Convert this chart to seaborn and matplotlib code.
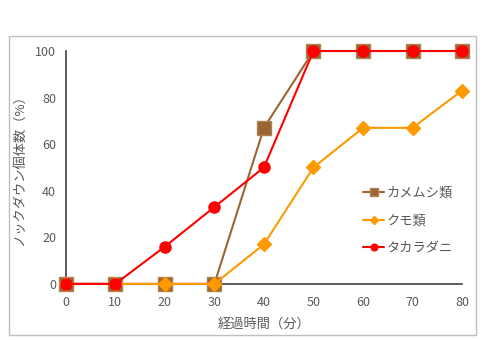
import matplotlib
matplotlib.use("Agg")
import matplotlib.pyplot as plt
import seaborn as sns
import pandas as pd
from matplotlib.patches import Rectangle

minutes = [0, 10, 20, 30, 40, 50, 60, 70, 80]
kamemushi = [0, 0, 0, 0, 67, 100, 100, 100, 100]
kumo = [0, 0, 0, 0, 17, 50, 67, 67, 83]
takaradani = [0, 0, 16, 33, 50, 100, 100, 100, 100]
series_names = ["カメムシ類", "クモ類", "タカラダニ"]
x_ticks = [0, 10, 20, 30, 40, 50, 60, 70, 80]
y_ticks = [0, 20, 40, 60, 80, 100]

sns.set_style("white")
plt.rcParams['font.family'] = ['Noto Sans CJK JP', 'DejaVu Sans']

fig = plt.figure(figsize=(4.91, 3.40), dpi=100)
ax = fig.add_axes([0.134, 0.165, 0.807, 0.685])

fig.patches.append(Rectangle((9/491, 5/340), 467/491, 299/340, transform=fig.transFigure,
                             fill=False, edgecolor="#bfbfbf", linewidth=1.0))

styles = [
    (kamemushi, "#996633", "s", 9.5, 1.5, "#b08050"),
    (kumo, "#FF9900", "D", 7.0, 1.5, "#FF9900"),
    (takaradani, "#FF0000", "o", 8.0, 1.5, "#FF0000"),
]
for i, (name, (vals, col, mk, ms, lw, ec)) in enumerate(zip(series_names, styles)):
    df = pd.DataFrame({"t": minutes, "v": vals})
    sns.lineplot(data=df, x="t", y="v", ax=ax, color=col, marker=mk, markersize=ms,
                 markeredgecolor=ec, markeredgewidth=1.0, linewidth=lw, label=name,
                 clip_on=False, zorder=3 + i)

ax.set_xlim(0, 80)
ax.set_ylim(0, 100)
ax.set_xticks(x_ticks)
ax.set_yticks(y_ticks)
ax.tick_params(axis="both", direction="in", length=4, width=1, color="#404040",
               labelsize=9, labelcolor="#595959")
ax.tick_params(axis="x", pad=9)
ax.tick_params(axis="y", pad=7)
for s in ["top", "right"]:
    ax.spines[s].set_visible(False)
for s in ["left", "bottom"]:
    ax.spines[s].set_color("#404040")
    ax.spines[s].set_linewidth(1.2)

ax.set_xlabel("経過時間（分）", fontsize=9.5, color="#595959", labelpad=6)
ax.set_ylabel("ノックダウン個体数（%）", fontsize=9.5, color="#595959", labelpad=6)

leg = ax.legend(loc="center left", bbox_to_anchor=(0.72, 0.27), frameon=False,
                fontsize=9.5, handlelength=1.6, markerscale=0.6, labelspacing=1.1,
                handletextpad=0.2)
for t in leg.get_texts():
    t.set_color("#595959")

fig.savefig("out.png", dpi=100)
